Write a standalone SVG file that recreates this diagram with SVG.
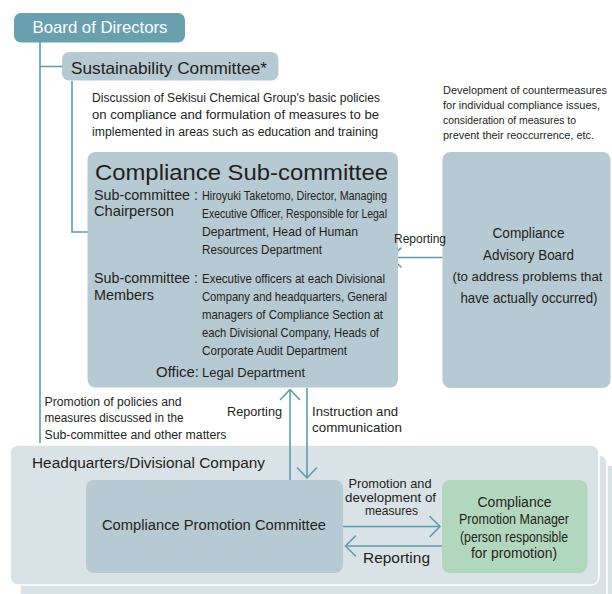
<svg xmlns="http://www.w3.org/2000/svg" width="612" height="594" viewBox="0 0 612 594">
<style>
text{font-family:"Liberation Sans",Arial,sans-serif;fill:#231f20}
.w{fill:#ffffff}
.ln{stroke:#5e9cad;stroke-width:1.6;fill:none}
.ah{stroke:#5e9cad;stroke-width:1.6;fill:none;stroke-linecap:round;stroke-linejoin:round}
.blue{fill:#b5cad3}
.pale{fill:#d9e2e7;stroke:#ffffff;stroke-width:1.5}
.c{text-anchor:middle}
.s11{font-size:11px}
.s12{font-size:12px}
.s13{font-size:13px}
.s14{font-size:14.5px}
.s15{font-size:15.5px}
</style>
<rect width="612" height="594" fill="#ffffff"/>

<g id="hq-stack">
<rect class="pale" x="30" y="465" width="600" height="150" rx="8"/>
<rect class="pale" x="20" y="455" width="587" height="150" rx="8"/>
<rect class="pale" x="10" y="445" width="589" height="140" rx="8"/>
<text class="s15" x="32" y="468" textLength="233" lengthAdjust="spacingAndGlyphs">Headquarters/Divisional Company</text>
</g>

<g id="connectors">
<path class="ln" d="M40 42V443M40 66.5H62"/>
<path class="ln" d="M72 81V232H88"/>
<path class="ln" d="M448 257.5H391"/>
<path class="ah" d="M401 248L391 257.5L401 267"/>
<path class="ln" d="M290 480V390"/>
<path class="ah" d="M280.5 399.5L290 389.5L299.5 399.5"/>
<path class="ln" d="M307 388V477"/>
<path class="ah" d="M297.5 468L307 478L316.5 468"/>
<path class="ln" d="M343 526.5H440"/>
<path class="ah" d="M430 516.5L440 526.5L430 536.5"/>
<path class="ln" d="M442 546H346"/>
<path class="ah" d="M355.5 536L345.5 546L355.5 556"/>
</g>

<g id="board">
<rect x="14" y="13" width="171" height="29.5" rx="7" fill="#6a9fb0"/>
<text class="w" x="32.5" y="33" font-size="16.5" textLength="135" lengthAdjust="spacingAndGlyphs">Board of Directors</text>
</g>

<g id="sustainability">
<rect class="blue" x="62" y="52" width="216.5" height="28.5" rx="7"/>
<text x="71" y="73.5" font-size="16.5" textLength="196" lengthAdjust="spacingAndGlyphs">Sustainability Committee*</text>
</g>

<g id="discussion-note">
<text class="s12" x="92" y="102" textLength="288" lengthAdjust="spacingAndGlyphs">Discussion of Sekisui Chemical Group's basic policies</text>
<text class="s12" x="92" y="119" textLength="287" lengthAdjust="spacingAndGlyphs">on compliance and formulation of measures to be</text>
<text class="s12" x="92" y="136" textLength="286" lengthAdjust="spacingAndGlyphs">implemented in areas such as education and training</text>
</g>

<g id="development-note">
<text class="s11" x="443" y="94" textLength="164" lengthAdjust="spacingAndGlyphs">Development of countermeasures</text>
<text class="s11" x="443" y="109" textLength="157" lengthAdjust="spacingAndGlyphs">for individual compliance issues,</text>
<text class="s11" x="443" y="124" textLength="133" lengthAdjust="spacingAndGlyphs">consideration of measures to</text>
<text class="s11" x="443" y="139" textLength="151" lengthAdjust="spacingAndGlyphs">prevent their reoccurrence, etc.</text>
</g>

<g id="sub-committee">
<rect class="blue" x="87.5" y="152" width="310.5" height="235.5" rx="8"/>
<text x="95" y="179.5" font-size="21.5" textLength="293" lengthAdjust="spacingAndGlyphs">Compliance Sub-committee</text>
<text class="s14" x="94" y="200" textLength="104" lengthAdjust="spacingAndGlyphs">Sub-committee :</text>
<text class="s14" x="94" y="216" textLength="80" lengthAdjust="spacingAndGlyphs">Chairperson</text>
<text class="s13" x="202" y="200" textLength="185" lengthAdjust="spacingAndGlyphs">Hiroyuki Taketomo, Director, Managing</text>
<text class="s13" x="202" y="218" textLength="185" lengthAdjust="spacingAndGlyphs">Executive Officer, Responsible for Legal</text>
<text class="s13" x="202" y="236" textLength="156" lengthAdjust="spacingAndGlyphs">Department, Head of Human</text>
<text class="s13" x="202" y="254" textLength="120" lengthAdjust="spacingAndGlyphs">Resources Department</text>
<text class="s14" x="94" y="283" textLength="104" lengthAdjust="spacingAndGlyphs">Sub-committee :</text>
<text class="s14" x="94" y="299.5" textLength="60" lengthAdjust="spacingAndGlyphs">Members</text>
<text class="s13" x="202" y="283" textLength="183" lengthAdjust="spacingAndGlyphs">Executive officers at each Divisional</text>
<text class="s13" x="202" y="301" textLength="185" lengthAdjust="spacingAndGlyphs">Company and headquarters, General</text>
<text class="s13" x="202" y="319" textLength="181" lengthAdjust="spacingAndGlyphs">managers of Compliance Section at</text>
<text class="s13" x="202" y="337" textLength="177" lengthAdjust="spacingAndGlyphs">each Divisional Company, Heads of</text>
<text class="s13" x="202" y="355" textLength="145" lengthAdjust="spacingAndGlyphs">Corporate Audit Department</text>
<text class="s14" x="156" y="376.5" textLength="43" lengthAdjust="spacingAndGlyphs">Office:</text>
<text class="s13" x="202" y="376.5" textLength="103" lengthAdjust="spacingAndGlyphs">Legal Department</text>
</g>

<g id="advisory-board">
<rect class="blue" x="442.5" y="152" width="168" height="236" rx="8"/>
<text class="c s14" x="528.5" y="238" textLength="72" lengthAdjust="spacingAndGlyphs">Compliance</text>
<text class="c s14" x="528.5" y="259.5" textLength="91" lengthAdjust="spacingAndGlyphs">Advisory Board</text>
<text class="c" x="527.5" y="281" font-size="13.5" textLength="150" lengthAdjust="spacingAndGlyphs">(to address problems that</text>
<text class="c s14" x="529" y="302.5" textLength="137" lengthAdjust="spacingAndGlyphs">have actually occurred)</text>
</g>

<g id="connector-labels">
<text class="s13" x="394" y="243" textLength="52" lengthAdjust="spacingAndGlyphs">Reporting</text>
<text class="s12" x="44.5" y="406" textLength="137" lengthAdjust="spacingAndGlyphs">Promotion of policies and</text>
<text class="s12" x="44.5" y="422" textLength="139" lengthAdjust="spacingAndGlyphs">measures discussed in the</text>
<text class="s12" x="44.5" y="438.5" textLength="182" lengthAdjust="spacingAndGlyphs">Sub-committee and other matters</text>
<text class="s13" x="227" y="416" textLength="55" lengthAdjust="spacingAndGlyphs">Reporting</text>
<text class="s13" x="312" y="416" textLength="86" lengthAdjust="spacingAndGlyphs">Instruction and</text>
<text class="s13" x="312" y="431.5" textLength="90" lengthAdjust="spacingAndGlyphs">communication</text>
<text class="c s13" x="390" y="488" textLength="83" lengthAdjust="spacingAndGlyphs">Promotion and</text>
<text class="c s13" x="390.5" y="501.5" textLength="91" lengthAdjust="spacingAndGlyphs">development of</text>
<text class="c s13" x="391.5" y="515" textLength="53" lengthAdjust="spacingAndGlyphs">measures</text>
<text class="c s15" x="396.5" y="563" textLength="67" lengthAdjust="spacingAndGlyphs">Reporting</text>
</g>

<g id="promotion-committee">
<rect class="blue" x="86" y="480" width="257" height="93" rx="8"/>
<text class="c s15" x="214" y="529.5" textLength="224" lengthAdjust="spacingAndGlyphs">Compliance Promotion Committee</text>
</g>

<g id="promotion-manager">
<rect x="442" y="480" width="145.5" height="93" rx="8" fill="#b1d8bc"/>
<text class="c s15" x="514.5" y="507" textLength="74" lengthAdjust="spacingAndGlyphs">Compliance</text>
<text class="c s15" x="514" y="524" textLength="110" lengthAdjust="spacingAndGlyphs">Promotion Manager</text>
<text class="c s15" x="514" y="541.5" textLength="108" lengthAdjust="spacingAndGlyphs">(person responsible</text>
<text class="c s15" x="514" y="558" textLength="86" lengthAdjust="spacingAndGlyphs">for promotion)</text>
</g>
</svg>
